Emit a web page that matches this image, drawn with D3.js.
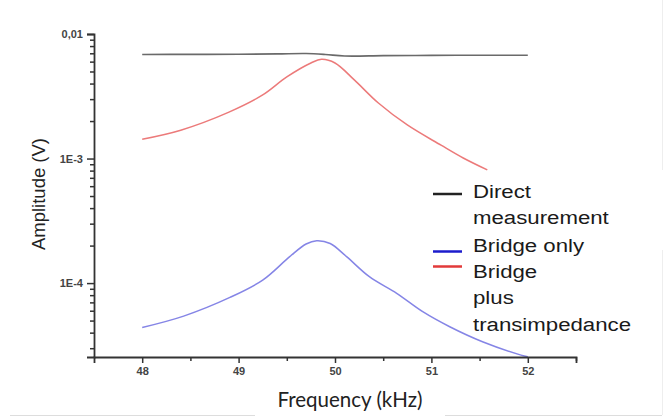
<!DOCTYPE html>
<html>
<head>
<meta charset="utf-8">
<script src="https://cdn.jsdelivr.net/npm/d3@7"></script>
<style>
  body { margin: 0; background: #fff; }
  svg { display: block; }
</style>
</head>
<body>
<div id="chart"></div>
<script>
// values
var freqDirect = [48.0, 48.5, 49.0, 49.4, 49.7, 49.9, 50.1, 50.5, 51.0, 51.5, 52.0];
var ampDirect  = [6.85e-3, 6.86e-3, 6.88e-3, 6.92e-3, 6.97e-3, 6.85e-3, 6.66e-3, 6.7e-3, 6.74e-3, 6.75e-3, 6.75e-3];

var freqBridge = [48.0, 48.43, 48.91, 49.25, 49.53, 49.7, 49.81, 49.95, 50.12, 50.36, 50.64, 50.91, 51.19, 51.53, 51.93, 52.0];
var ampBridge  = [4.4e-5, 5.43e-5, 7.67e-5, 1.056e-4, 1.63e-4, 2.06e-4, 2.19e-4, 2.08e-4, 1.63e-4, 1.12e-4, 8.27e-5, 5.89e-5, 4.46e-5, 3.38e-5, 2.64e-5, 2.56e-5];

var freqTrans = [48.0, 48.4, 48.9, 49.25, 49.5, 49.75, 49.86, 50.0, 50.2, 50.45, 50.75, 51.1, 51.33, 51.58];
var ampTrans  = [1.43e-3, 1.69e-3, 2.36e-3, 3.24e-3, 4.52e-3, 5.85e-3, 6.26e-3, 5.85e-3, 4.28e-3, 2.79e-3, 1.86e-3, 1.28e-3, 1.01e-3, 8.1e-4];

var xTicks = [48, 49, 50, 51, 52];
var xMinor = [48.5, 49.5, 50.5, 51.5, 52.5];
var yTicks = [1e-4, 1e-3, 1e-2];
var yTickLabels = ["1E-4", "1E-3", "0,01"];
var yMinor = [3e-5, 4e-5, 5e-5, 6e-5, 7e-5, 8e-5, 9e-5,
              2e-4, 3e-4, 4e-4, 5e-4, 6e-4, 7e-4, 8e-4, 9e-4,
              2e-3, 3e-3, 4e-3, 5e-3, 6e-3, 7e-3, 8e-3, 9e-3];

var legendNames = [["Direct", "measurement"], ["Bridge only"], ["Bridge", "plus", "transimpedance"]];
var legendColors = ["#222", "#1c1ccc", "#e23a3a"];

var width = 667, height = 418;
var margin = {top: 34, right: 91, bottom: 61, left: 94};

var svg = d3.select("#chart").append("svg")
  .attr("width", width)
  .attr("height", height);

// faint slide frame lines from the original picture
svg.append("line").attr("x1", 10).attr("x2", 255).attr("y1", 415.5).attr("y2", 415.5)
  .style("stroke", "#ddd").style("stroke-width", 1);
svg.append("line").attr("x1", 445).attr("x2", 662).attr("y1", 415.5).attr("y2", 415.5)
  .style("stroke", "#ddd").style("stroke-width", 1);
svg.append("line").attr("x1", 662.5).attr("x2", 662.5).attr("y1", 0).attr("y2", 170)
  .style("stroke", "#eee").style("stroke-width", 1);
svg.append("line").attr("x1", 662.5).attr("x2", 662.5).attr("y1", 250).attr("y2", 415)
  .style("stroke", "#eee").style("stroke-width", 1);

var xScale = d3.scaleLinear()
  .domain([47.5, 52.5])
  .range([margin.left, width - margin.right]);

var yScale = d3.scaleLog()
  .domain([2.55e-5, 0.01])
  .range([height - margin.bottom, margin.top]);

var line = d3.line()
  .x(function(d) { return xScale(d[0]); })
  .y(function(d) { return yScale(d[1]); })
  .curve(d3.curveCatmullRom.alpha(0.5));

function pairs(f, a) {
  return f.map(function(v, i) { return [v, a[i]]; });
}

svg.append("path")
  .datum(pairs(freqDirect, ampDirect))
  .attr("d", line)
  .style("fill", "none")
  .style("stroke", "#6a6a6a")
  .style("stroke-width", 1.6);

svg.append("path")
  .datum(pairs(freqTrans, ampTrans))
  .attr("d", line)
  .style("fill", "none")
  .style("stroke", "#ec7a7a")
  .style("stroke-width", 1.5);

svg.append("path")
  .datum(pairs(freqBridge, ampBridge))
  .attr("d", line)
  .style("fill", "none")
  .style("stroke", "#8585e6")
  .style("stroke-width", 1.5);

// axes
var xAxis = d3.axisBottom(xScale).tickValues(xTicks).tickSize(6).tickPadding(4)
  .tickFormat(d3.format("d"));
var xAxisMinor = d3.axisBottom(xScale).tickValues(xMinor).tickSize(4).tickFormat("");
var yAxis = d3.axisLeft(yScale).tickValues(yTicks).tickSize(7).tickPadding(4)
  .tickFormat(function(d, i) { return yTickLabels[i]; });
var yAxisMinor = d3.axisLeft(yScale).tickValues(yMinor).tickSize(4).tickFormat("");

svg.append("g")
  .attr("transform", "translate(0," + (height - margin.bottom) + ")")
  .call(xAxis);
svg.append("g")
  .attr("transform", "translate(0," + (height - margin.bottom) + ")")
  .call(xAxisMinor)
  .select(".domain").remove();

svg.append("g")
  .attr("transform", "translate(" + margin.left + ",0)")
  .call(yAxis);
svg.append("g")
  .attr("transform", "translate(" + margin.left + ",0)")
  .call(yAxisMinor)
  .select(".domain").remove();

svg.selectAll(".domain").style("stroke", "#333").style("stroke-width", 1.8);
svg.selectAll(".tick line").style("stroke", "#333").style("stroke-width", 1.5);
svg.selectAll(".tick text")
  .style("font-family", "'Liberation Sans', Arial, sans-serif")
  .style("font-size", "11px")
  .style("font-weight", "bold")
  .style("fill", "#444");

// axis titles
svg.append("text")
  .attr("x", 350)
  .attr("y", 407)
  .attr("text-anchor", "middle")
  .style("font-family", "Lato, 'Open Sans', sans-serif")
  .style("font-size", "20.5px")
  .style("fill", "#222")
  .text("Frequency (kHz)");

svg.append("text")
  .attr("transform", "translate(45,194) rotate(-90)")
  .attr("text-anchor", "middle")
  .style("font-family", "'Liberation Sans', Arial, sans-serif")
  .style("font-size", "18.5px")
  .style("fill", "#222")
  .text("Amplitude (V)");

// legend (text in the picture is a little stretched sideways)
var legendLineY = [194, 251.5, 266.5];
var legendTextY = [198, 251.5, 278];
var lineH = 26.4;
var lg = svg.append("g");
legendNames.forEach(function(name, i) {
  lg.append("line")
    .attr("x1", 433).attr("x2", 462)
    .attr("y1", legendLineY[i]).attr("y2", legendLineY[i])
    .style("stroke", legendColors[i])
    .style("stroke-width", 2.5);
  name.forEach(function(part, j) {
    lg.append("text")
      .attr("transform", "translate(473," + (legendTextY[i] + j * lineH) + ") scale(1.17,1)")
      .style("font-family", "'Liberation Sans', Arial, sans-serif")
      .style("font-size", "19px")
      .style("fill", "#1a1a1a")
      .text(part);
  });
});
</script>
</body>
</html>
